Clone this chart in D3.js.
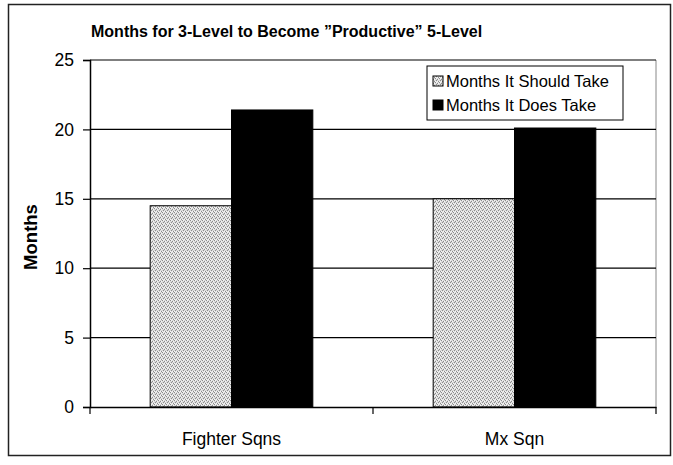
<!DOCTYPE html>
<html>
<head>
<meta charset="utf-8">
<script src="https://cdn.jsdelivr.net/npm/d3@7"></script>
<style>
  body { margin: 0; background: #fff; }
  text { font-family: "Liberation Sans", Arial, sans-serif; }
</style>
</head>
<body>
<div id="chart"></div>
<script>
// chart data
var categories = ["Fighter Sqns", "Mx Sqn"];
var seriesNames = ["Months It Should Take", "Months It Does Take"];
var shouldTake = [14.5, 15];
var doesTake = [21.4, 20.1];
var yTicks = [0, 5, 10, 15, 20, 25];

var W = 673, H = 465;
var margin = {top: 60, right: 17, bottom: 58, left: 90},
    width = W - margin.left - margin.right,
    height = H - margin.top - margin.bottom;

var svg = d3.select("#chart").append("svg")
  .attr("width", W)
  .attr("height", H);

// stipple pattern for the light bars
var defs = svg.append("defs");
var pat = defs.append("pattern")
  .attr("id", "stipple")
  .attr("width", 4).attr("height", 4)
  .attr("patternUnits", "userSpaceOnUse");
pat.append("rect").attr("width", 4).attr("height", 4).attr("fill", "#dadada");
[[0,0],[2,1],[1,2],[3,3]].forEach(function(p) {
  pat.append("rect").attr("x", p[0]).attr("y", p[1]).attr("width", 1).attr("height", 1).attr("fill", "#8c8c8c");
});
[[1,0],[0,3],[2,3],[3,1]].forEach(function(p) {
  pat.append("rect").attr("x", p[0]).attr("y", p[1]).attr("width", 1).attr("height", 1).attr("fill", "#f6f6f6");
});

// outer frame
svg.append("rect")
  .attr("x", 8.5).attr("y", 4.5)
  .attr("width", 662).attr("height", 451)
  .attr("fill", "none")
  .attr("stroke", "#222")
  .attr("stroke-width", 1.5);

// title
svg.append("text")
  .attr("x", 91).attr("y", 37)
  .style("font-size", "16px")
  .style("font-weight", "bold")
  .text("Months for 3-Level to Become \u201dProductive\u201d 5-Level");

var g = svg.append("g")
  .attr("transform", "translate(" + margin.left + "," + margin.top + ")");

var x = d3.scaleBand()
  .domain(categories)
  .range([0, width]);

var xInner = d3.scaleBand()
  .domain(seriesNames)
  .range([0, x.bandwidth()])
  .paddingOuter(0.74);

var y = d3.scaleLinear()
  .domain([0, 25])
  .range([height, 0]);

// plot area right border
g.append("line")
  .attr("x1", width).attr("x2", width)
  .attr("y1", 0).attr("y2", height)
  .attr("stroke", "#888");

// gridlines
g.selectAll(".grid")
  .data(yTicks.filter(function(d) { return d > 0; }))
  .enter().append("line")
    .attr("x1", 0).attr("x2", width)
    .attr("y1", function(d) { return y(d); })
    .attr("y2", function(d) { return y(d); })
    .attr("stroke", "#000")
    .attr("stroke-width", 1.2);

// bars
var rows = categories.map(function(c, i) {
  return {cat: c, vals: [shouldTake[i], doesTake[i]]};
});
var groups = g.selectAll(".grp")
  .data(rows)
  .enter().append("g")
    .attr("transform", function(d) { return "translate(" + x(d.cat) + ",0)"; });

groups.selectAll("rect")
  .data(function(d) { return d.vals.map(function(v, j) { return {s: seriesNames[j], v: v, j: j}; }); })
  .enter().append("rect")
    .attr("x", function(d) { return xInner(d.s); })
    .attr("y", function(d) { return y(d.v); })
    .attr("width", xInner.bandwidth())
    .attr("height", function(d) { return height - y(d.v); })
    .attr("fill", function(d) { return d.j === 0 ? "url(#stipple)" : "#000"; })
    .attr("stroke", "#000")
    .attr("stroke-width", 1);

// y axis
var yAxis = g.append("g")
  .call(d3.axisLeft(y).tickValues(yTicks).tickSize(7).tickPadding(9));
yAxis.select(".domain").attr("stroke-width", 1.5);
yAxis.selectAll(".tick line").attr("stroke-width", 1.2);
yAxis.selectAll("text")
  .style("font-size", "17.5px")
  .style("font-family", "'Liberation Sans', Arial, sans-serif")
  .attr("fill", "#000");

// x axis
var xAxis = g.append("g")
  .attr("transform", "translate(0," + height + ")")
  .call(d3.axisBottom(x).tickSize(0).tickPadding(26));
xAxis.select(".domain").attr("stroke-width", 1.5);
xAxis.selectAll("text")
  .style("font-size", "17.5px")
  .style("font-family", "'Liberation Sans', Arial, sans-serif")
  .attr("fill", "#000");
// category separator ticks
xAxis.selectAll(".sep")
  .data([0, 1, 2])
  .enter().append("line")
    .attr("x1", function(d) { return d * x.step(); })
    .attr("x2", function(d) { return d * x.step(); })
    .attr("y1", 0).attr("y2", 7)
    .attr("stroke", "#000")
    .attr("stroke-width", 1.2);

// y axis label
svg.append("text")
  .attr("transform", "translate(37," + 237 + ") rotate(-90)")
  .attr("text-anchor", "middle")
  .style("font-size", "18.5px")
  .style("font-weight", "bold")
  .text("Months");

// legend
var lg = svg.append("g").attr("transform", "translate(427,66)");
lg.append("rect")
  .attr("width", 196).attr("height", 54)
  .attr("fill", "#fff")
  .attr("stroke", "#000")
  .attr("stroke-width", 1);
seriesNames.forEach(function(s, i) {
  lg.append("rect")
    .attr("x", 6).attr("y", 10 + i * 24)
    .attr("width", 10).attr("height", 10)
    .attr("fill", i === 0 ? "url(#stipple)" : "#000")
    .attr("stroke", "#000");
  lg.append("text")
    .attr("x", 19).attr("y", 21 + i * 24)
    .style("font-size", "16.5px")
    .text(s);
});
</script>
</body>
</html>
